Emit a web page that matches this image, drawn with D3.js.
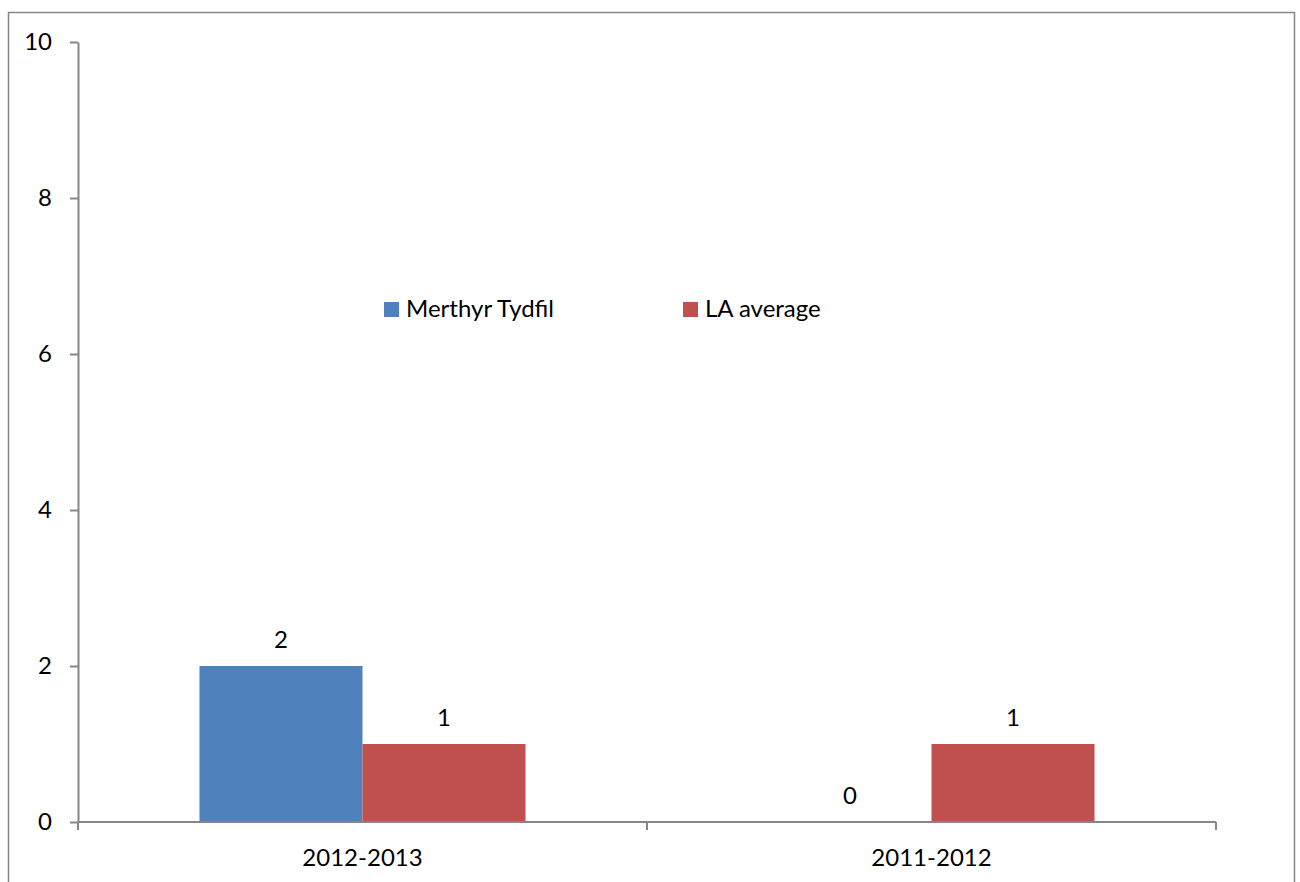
<!DOCTYPE html>
<html><head><meta charset="utf-8">
<script src="https://cdn.jsdelivr.net/npm/d3@7"></script>
<style>html,body{margin:0;padding:0;background:#fff;}svg{display:block;}</style>
</head><body>
<script>
const categories = ["2012-2013", "2011-2012"];
const seriesNames = ["Merthyr Tydfil", "LA average"];
const merthyr = [2, 0];
const laAverage = [1, 1];
const yTicks = [0, 2, 4, 6, 8, 10];
const colors = ["#4F81BD", "#C0504D"];

(function(){
const W = 1300, H = 882;
const font = "Lato, 'Liberation Sans', sans-serif";
const fs = 24;
const svg = d3.select("body").append("svg").attr("width", W).attr("height", H);
svg.append("rect").attr("x", 8.5).attr("y", 12.5).attr("width", 1286).attr("height", 880)
  .attr("fill", "#fff").attr("stroke", "#868686").attr("stroke-width", 1.5);

const pLeft = 78, pRight = 1216, pTop = 42, pBottom = 822;
const y = d3.scaleLinear().domain([0, 10]).range([pBottom, pTop]);
const x0 = d3.scaleBand().domain(categories).range([pLeft, pRight]).padding(0);
const bw = x0.bandwidth();
const x1 = d3.scaleBand().domain(seriesNames).range([bw * 0.2135, bw * 0.7865]).padding(0);

const data = categories.map((c, i) => ({cat: c, vals: [merthyr[i], laAverage[i]]}));

const g = svg.append("g");
data.forEach(d => {
  d.vals.forEach((v, j) => {
    const xx = x0(d.cat) + x1(seriesNames[j]);
    if (v > 0) {
      g.append("rect").attr("x", xx).attr("y", y(v)).attr("width", x1.bandwidth())
        .attr("height", y(0) - y(v)).attr("fill", colors[j]);
    }
    g.append("text").attr("x", xx + x1.bandwidth() / 2).attr("y", y(v) - 18)
      .attr("text-anchor", "middle").attr("font-family", font).attr("font-size", fs)
      .attr("fill", "#000").text(v);
  });
});

const yAxis = d3.axisLeft(y).tickValues(yTicks).tickSize(8).tickPadding(18).tickSizeOuter(0);
const ya = svg.append("g").attr("transform", `translate(${pLeft},0)`).call(yAxis);
ya.select(".domain").attr("stroke", "#868686").attr("stroke-width", 2);
ya.selectAll(".tick line").attr("stroke", "#868686").attr("stroke-width", 2);
ya.selectAll(".tick text").attr("font-family", font).attr("font-size", fs).attr("fill", "#000");

const xa = svg.append("g").attr("transform", `translate(0,${pBottom})`);
xa.append("line").attr("x1", pLeft).attr("x2", pRight).attr("y1", 0).attr("y2", 0)
  .attr("stroke", "#868686").attr("stroke-width", 2);
const bounds = [pLeft].concat(categories.map(c => x0(c) + bw));
xa.selectAll("line.tk").data(bounds).join("line").attr("class", "tk")
  .attr("x1", d => d).attr("x2", d => d).attr("y1", 0).attr("y2", 8)
  .attr("stroke", "#868686").attr("stroke-width", 2);
xa.selectAll("text").data(categories).join("text")
  .attr("x", d => x0(d) + bw / 2).attr("y", 44).attr("text-anchor", "middle")
  .attr("font-family", font).attr("font-size", fs).attr("fill", "#000").text(d => d);

const legX = [384, 683];
seriesNames.forEach((s, i) => {
  svg.append("rect").attr("x", legX[i]).attr("y", 302).attr("width", 15).attr("height", 15).attr("fill", colors[i]);
  svg.append("text").attr("x", legX[i] + 22).attr("y", 317).attr("font-family", font)
    .attr("font-size", fs).attr("fill", "#000").text(s);
});
})();
</script>
</body></html>
